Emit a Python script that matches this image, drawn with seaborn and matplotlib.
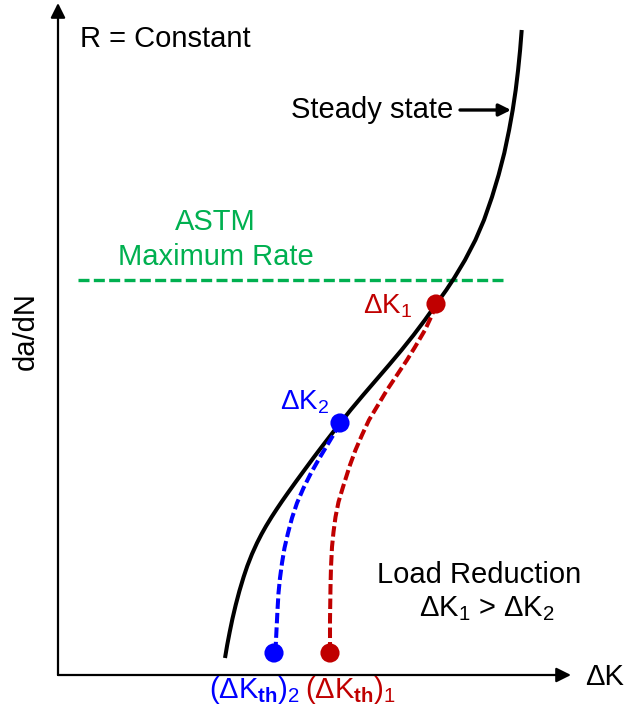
import matplotlib
matplotlib.use("Agg")
import matplotlib.pyplot as plt
import seaborn as sns
import pandas as pd

sns.set_theme(style="white")
plt.rcParams["font.family"] = ["Liberation Sans", "DejaVu Sans"]
plt.rcParams["text.color"] = "black"
plt.rcParams["mathtext.fontset"] = "custom"
plt.rcParams["mathtext.rm"] = "Liberation Sans"
plt.rcParams["mathtext.it"] = "Liberation Sans:italic"
plt.rcParams["mathtext.bf"] = "Liberation Sans:bold"
plt.rcParams["mathtext.default"] = "regular"

RED = "#C00000"
BLUE = "#0000FF"
GREEN = "#00B050"

# Schematic crack-growth curve (arbitrary units of ΔK and da/dN)
curve_dk = [167, 169.2, 171.7, 174.4, 177.7, 181.4, 185.6, 189.3, 194.0, 199.0,
            203.6, 208.1, 213.6, 218.8, 224.2, 229.8, 238.4, 247.2, 255.3, 262.1,
            269.0, 276.0, 282.3, 292.6, 305.2, 318.1, 331.0, 343.6, 355.6, 366.9,
            378.3, 388.3, 396.2, 407, 417.4, 426, 434, 440.6, 446.3, 451.1,
            454.7, 457.7, 460.1, 462.1, 463.7]
curve_dadn = [17, 30, 43, 56, 70, 84, 98, 109, 121, 132,
              141, 149, 158, 166, 174, 182, 194, 206, 217, 226,
              235, 244, 252, 265, 280, 295, 310, 325, 340, 355,
              371, 385, 397, 415, 435, 455, 478, 500, 522, 545,
              565, 585, 605, 625, 645]

# Load-reduction path starting at ΔK2
path2_dk = [282, 276.5, 270.5, 261.5, 253, 245.5, 239, 234, 230, 226.5, 224, 222,
            220.5, 219.5, 218.5, 217.5]
path2_dadn = [252, 242, 232, 217, 202, 187, 172, 157, 142, 127, 112, 97,
              82, 65, 45, 25]

# Load-reduction path starting at ΔK1
path1_dk = [378, 374, 367, 357, 349, 339, 329, 320, 311, 304, 297.5, 292, 285,
            280.5, 277.5, 275.5, 274, 273, 272.5, 272, 272]
path1_dadn = [371, 360, 345, 328, 315, 300, 285, 270, 255, 240, 225, 210, 188,
              173, 158, 143, 128, 108, 88, 55, 22]

# Start and threshold points
dk_points = [378, 282, 216, 272]
dadn_points = [371, 252, 22, 22]
point_colors = [RED, BLUE, BLUE, RED]

astm_max_rate = 395
astm_dk_range = [20, 449]

fig = plt.figure(figsize=(6.28, 7.19), dpi=100)
ax = fig.add_axes([0, 0, 1, 1])
ax.set_xlim(-58, 570)
ax.set_ylim(-44, 675)
ax.axis("off")

# Axes drawn as arrows
ax.annotate("", xy=(0, 672), xytext=(0, 0),
            arrowprops=dict(arrowstyle="-|>", color="black", lw=1.6,
                            mutation_scale=22, shrinkA=0, shrinkB=0))
ax.annotate("", xy=(513, 0), xytext=(0, 0),
            arrowprops=dict(arrowstyle="-|>", color="black", lw=1.6,
                            mutation_scale=22, shrinkA=0, shrinkB=0))

# ASTM maximum rate line
sns.lineplot(x=astm_dk_range, y=[astm_max_rate] * 2, color=GREEN, lw=2.4,
             sort=False, estimator=None, ax=ax)
ax.lines[-1].set_dashes([3.3, 1.3])

# Main curve
sns.lineplot(x=curve_dk, y=curve_dadn, color="black", lw=2.9,
             sort=False, estimator=None, ax=ax)
ax.lines[-1].set_solid_capstyle("butt")
ax.lines[-1].set_solid_joinstyle("round")

# Load reduction paths
sns.lineplot(x=path2_dk, y=path2_dadn, color=BLUE, lw=2.9,
             sort=False, estimator=None, ax=ax)
ax.lines[-1].set_dashes([2.6, 1.0])
sns.lineplot(x=path1_dk, y=path1_dadn, color=RED, lw=2.9,
             sort=False, estimator=None, ax=ax)
ax.lines[-1].set_dashes([2.6, 1.0])

pts = pd.DataFrame({"dk": dk_points, "dadn": dadn_points, "c": point_colors})
sns.scatterplot(data=pts, x="dk", y="dadn", hue="c", palette={RED: RED, BLUE: BLUE},
                s=190, linewidth=0, legend=False, zorder=5, ax=ax)

fs = 21
ax.text(22, 628, "R = Constant", fontsize=fs, ha="left", va="baseline")
ax.text(395, 557, "Steady state", fontsize=fs, ha="right", va="baseline")
ax.annotate("", xy=(453, 565), xytext=(402, 565),
            arrowprops=dict(arrowstyle="-|>", color="black", lw=2.4,
                            mutation_scale=18, shrinkA=0, shrinkB=0))

ax.text(157, 445, "ASTM", fontsize=fs, color=GREEN, ha="center", va="baseline")
ax.text(158, 410, "Maximum Rate", fontsize=fs, color=GREEN, ha="center", va="baseline")

ax.text(305, 362, r"ΔK$_1$", fontsize=20, color=RED, ha="left", va="baseline")
ax.text(222, 265, r"ΔK$_2$", fontsize=20, color=BLUE, ha="left", va="baseline")

ax.text(421, 92, "Load Reduction", fontsize=fs, ha="center", va="baseline")
ax.text(429, 59, r"ΔK$_1$ > ΔK$_2$", fontsize=fs, ha="center", va="baseline")

ax.text(197, -23, r"(ΔK$_{\mathbf{th}}$)$_2$", fontsize=fs, color=BLUE,
        ha="center", va="baseline")
ax.text(293, -23, r"(ΔK$_{\mathbf{th}}$)$_1$", fontsize=fs, color=RED,
        ha="center", va="baseline")

ax.text(527, -10, "ΔK", fontsize=fs, ha="left", va="baseline")
ax.text(-32, 344, "da/dN", fontsize=fs, rotation=90, ha="center", va="center")

fig.savefig("out.png", dpi=100)
